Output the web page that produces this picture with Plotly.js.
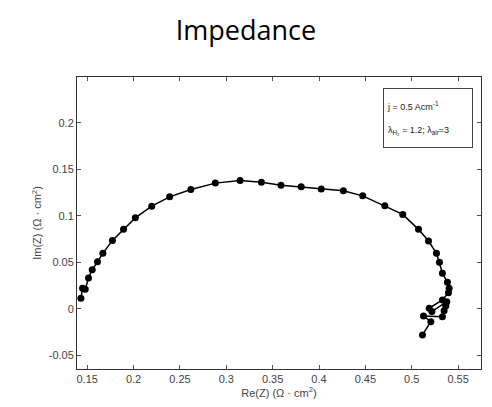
<!DOCTYPE html>
<html><head><meta charset="utf-8">
<script src="https://cdn.plot.ly/plotly-3.0.1.min.js"></script>
<style>body{margin:0;background:#fff}#c{width:492px;height:407px}</style>
</head><body><div id="c"></div>
<script>
const reZ = [0.1432,0.1450,0.1479,0.1514,0.1554,0.1611,0.1669,0.1772,0.1892,0.2019,0.2196,0.2389,0.2618,0.2882,0.3149,0.3379,0.3590,0.3808,0.4024,0.4263,0.4471,0.4710,0.4903,0.5073,0.5181,0.5267,0.5299,0.5331,0.5385,0.5403,0.5396,0.5331,0.5188,0.5217,0.5378,0.5367,0.5349,0.5331,0.5127,0.5206,0.5116];
const imZ = [0.0112,0.0219,0.0209,0.0330,0.0419,0.0505,0.0596,0.0735,0.0854,0.0978,0.1104,0.1204,0.1284,0.1352,0.1380,0.1362,0.1330,0.1312,0.1290,0.1269,0.1215,0.1108,0.1015,0.0854,0.0728,0.0596,0.0499,0.0381,0.0284,0.0219,0.0172,0.0094,0.0004,-0.0032,0.0075,0.0029,-0.0022,-0.0086,-0.0078,-0.0140,-0.0283];
const xTicks = [0.15,0.2,0.25,0.3,0.35,0.4,0.45,0.5,0.55];
const yTicks = [-0.05,0,0.05,0.1,0.15,0.2];
const tf = {family:'Liberation Sans, Arial, sans-serif', size:11, color:'#444'};
const trace = {x:reZ, y:imZ, mode:'lines+markers', type:'scatter',
  line:{color:'#000', width:1.5}, marker:{color:'#000', size:7}};
const ax = {showgrid:false, zeroline:false, showline:true, linecolor:'#333', linewidth:1,
  mirror:'ticks', ticks:'inside', ticklen:4, tickcolor:'#555', tickfont:tf};
const layout = {
  width:492, height:407, paper_bgcolor:'#fff', plot_bgcolor:'#fff', showlegend:false,
  margin:{l:77, r:11, t:77, b:38},
  title:{text:'Impedance', font:{family:'Open Sans, sans-serif', size:27, color:'#000'}, x:0.5, xanchor:'center', y:0.925, yanchor:'middle'},
  xaxis:Object.assign({}, ax, {range:[0.139,0.5747], tickvals:xTicks, ticktext:xTicks.map(String),
    title:{text:'Re(Z) (Ω · cm<sup>2</sup>)', font:tf, standoff:0}}),
  yaxis:Object.assign({}, ax, {range:[-0.065,0.2495], tickvals:yTicks, ticktext:yTicks.map(String),
    title:{text:'Im(Z) (Ω · cm<sup>2</sup>)', font:tf, standoff:4}}),
  annotations:[{xref:'paper', yref:'paper', x:0.757, y:0.962, xanchor:'left', yanchor:'top',
    text:'j = 0.5 Acm<sup>-1</sup><br><br>λ<sub>H₂</sub> = 1.2; λ<sub>air</sub>=3', align:'left', showarrow:false,
    font:{family:'Liberation Sans, Arial, sans-serif', size:9, color:'#222'},
    bordercolor:'#444', borderwidth:1, borderpad:3, bgcolor:'#fff', width:82, height:52, valign:'middle'}]
};
Plotly.newPlot('c', [trace], layout, {staticPlot:true});
</script></body></html>
